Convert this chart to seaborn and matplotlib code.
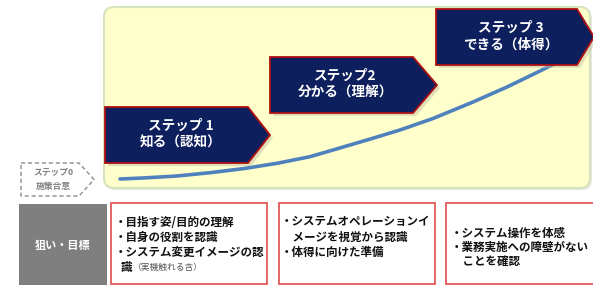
import numpy as np
import pandas as pd
import seaborn as sns
import matplotlib
matplotlib.use("Agg")
import matplotlib.pyplot as plt
from matplotlib.patches import Polygon, FancyBboxPatch, Rectangle

# ---------------- data ----------------
step_titles = ["ステップ 1", "ステップ2", "ステップ 3"]
step_subtitles = ["知る（認知）", "分かる（理解）", "できる（体得）"]
step0_lines = ["ステップ0", "施策合意"]
goal_label = "狙い・目標"
goals_box1 = ["・目指す姿/目的の理解", "・自身の役割を認識", "・システム変更イメージの認"]
goals_box1_tail = ["識", "（実機触れる含）"]
goals_box2 = ["・システムオペレーションイ", "　メージを視覚から認識", "・体得に向けた準備"]
goals_box3 = ["・システム操作を体感", "・業務実施への障壁がない", "　ことを確認"]
curve_x = [120, 143, 177, 210, 243, 277, 310, 333, 367, 400, 433, 473, 507, 540, 556]
curve_y = [179, 178, 176, 172.7, 168.7, 163.3, 156.7, 150, 140, 130, 118.5, 102, 87, 71, 63]

# ---------------- style ----------------
sns.set_theme(style="white")
plt.rcParams['font.family'] = ['Noto Sans CJK JP', 'DejaVu Sans']

W, H = 593, 285
fig = plt.figure(figsize=(W / 100, H / 100), dpi=100)
ax = fig.add_axes([0, 0, 1, 1])
ax.set_xlim(0, W)
ax.set_ylim(H, 0)
ax.axis("off")

NAVY = "#0d1f5c"
DARKRED = "#b01010"
YELLOW = "#ffffcc"
BLUE = "#4f81bd"
RED_BOX = "#e05a5a"
GRAY_BOX = "#7f7f7f"

# yellow rounded panel (with soft shadow)
ax.add_patch(FancyBboxPatch((106, 9), 486, 181, boxstyle="round,pad=0,rounding_size=10",
                            fc="#e6e6e6", ec="none", zorder=0.5))
ax.add_patch(FancyBboxPatch((104, 7), 486, 181, boxstyle="round,pad=0,rounding_size=10",
                            fc=YELLOW, ec="#d6e4bc", lw=1.5, zorder=1))

# growth curve
sns.lineplot(x=curve_x, y=curve_y, ax=ax, color=BLUE, lw=2.6, sort=False, zorder=2,
             legend=False)


def pentagon(x0, y0, x1, xt, y1):
    ym = (y0 + y1) / 2
    return [(x0, y0), (x1, y0), (xt, ym), (x1, y1), (x0, y1)]


step_geom = [(105, 107, 248, 270, 163), (270, 57, 413, 437, 113), (436, 9, 577, 594, 65)]
for (x0, y0, x1, xt, y1), t1, t2 in zip(step_geom, step_titles, step_subtitles):
    sh = [(px + 3, py + 3) for px, py in pentagon(x0, y0, x1, xt, y1)]
    ax.add_patch(Polygon(sh, closed=True, fc="#b8b8a0", ec="none", alpha=0.45, zorder=2.5))
    ax.add_patch(Polygon(pentagon(x0, y0, x1, xt, y1), closed=True, fc=NAVY,
                         ec=DARKRED, lw=1.3, zorder=3))
    cx = (x0 + x1) / 2 + 4
    cy = (y0 + y1) / 2
    ax.text(cx, cy - 9, t1, color="white", fontsize=9.8, fontweight="bold",
            ha="center", va="center", zorder=4)
    ax.text(cx, cy + 8, t2, color="white", fontsize=9.8, fontweight="bold",
            ha="center", va="center", zorder=4)

# step 0 dashed pentagon
ax.add_patch(Polygon(pentagon(21, 163, 79, 94, 196), closed=True, fc="white",
                     ec="#8c8c8c", lw=1.0, ls=(0, (3, 2)), zorder=3))
ax.text(53, 172, step0_lines[0], color="#808080", fontsize=6.3, fontweight="bold",
        ha="center", va="center", zorder=4)
ax.text(53, 186, step0_lines[1], color="#808080", fontsize=6.3, fontweight="bold",
        ha="center", va="center", zorder=4)

# goal label
ax.add_patch(Rectangle((19, 204), 88, 85, fc=GRAY_BOX, ec="none", zorder=2))
ax.text(63, 245, goal_label, color="white", fontsize=8, fontweight="bold",
        ha="center", va="center", zorder=3)

# red boxes
for bx, bw in [(111, 156), (279, 156), (446, 160)]:
    ax.add_patch(Rectangle((bx, 203), bw, 81, fc="white", ec=RED_BOX, lw=1.3, zorder=2))

tx = dict(color="#111111", fontsize=8.3, fontweight="bold", ha="left", va="center", zorder=3)
for i, line in enumerate(goals_box1):
    ax.text(115, 223 + i * 14.7, line, **tx)
ax.text(121, 267, goals_box1_tail[0], **tx)
ax.text(133, 267.5, goals_box1_tail[1], color="#555555", fontsize=6.3, ha="left",
        va="center", zorder=3)
for i, line in enumerate(goals_box2):
    ax.text(281, 222 + i * 15, line, **tx)
for i, line in enumerate(goals_box3):
    ax.text(451, 233 + i * 14, line, **tx)

fig.savefig("out.png", dpi=100, facecolor="white")
